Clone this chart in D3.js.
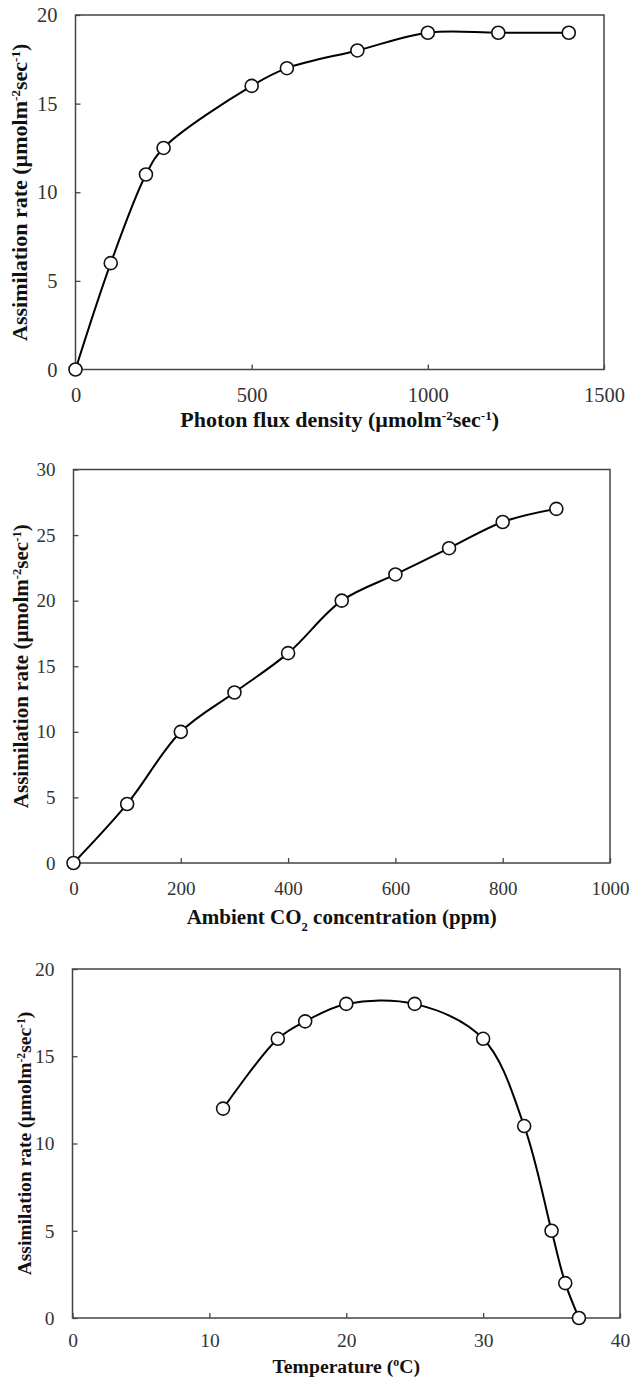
<!DOCTYPE html>
<html lang="en">
<head>
    <meta charset="UTF-8"/>
    <title>Assimilation rate response curves</title>
    <script src="https://d3js.org/d3.v7.min.js"></script>
    <style>
        body { margin: 0; background: #fff; }
        svg text { font-family: "Times New Roman", "Liberation Serif", "DejaVu Serif", serif; }
        .frame { fill: none; stroke: #444; stroke-width: 1.5; }
        .line { fill: none; stroke: #000; stroke-width: 2; }
        .dot { fill: #fff; stroke: #111; stroke-width: 1.6; }
        .tick text { fill: #333; }
        .tick line { stroke: #444; stroke-width: 1.3; }
        .domain { display: none; }
        .title { font-weight: bold; fill: #111; }
    </style>
</head>
<body>
<div id="chart"></div>
<script>
    // light response
    const photonX = [0, 100, 200, 250, 500, 600, 800, 1000, 1200, 1400];
    const photonY = [0, 6, 11, 12.5, 16, 17, 18, 19, 19, 19];
    const photonTicksX = [0, 500, 1000, 1500];
    const photonTicksY = [0, 5, 10, 15, 20];

    // CO2 response
    const co2X = [0, 100, 200, 300, 400, 500, 600, 700, 800, 900];
    const co2Y = [0, 4.5, 10, 13, 16, 20, 22, 24, 26, 27];
    const co2TicksX = [0, 200, 400, 600, 800, 1000];
    const co2TicksY = [0, 5, 10, 15, 20, 25, 30];

    // temperature response
    const tempX = [11, 15, 17, 20, 25, 30, 33, 35, 36, 37];
    const tempY = [12, 16, 17, 18, 18, 16, 11, 5, 2, 0];
    const tempTicksX = [0, 10, 20, 30, 40];
    const tempTicksY = [0, 5, 10, 15, 20];

    const w = 633;
    const h = 1383;
    const serif = '"Times New Roman", "Liberation Serif", "DejaVu Serif", serif';

    let svg = d3.select("#chart")
            .append("svg")
            .attr("width", w)
            .attr("height", h);

    // title parts: [text, "sup" | "sub" | null]
    const unitParts = [["(µmolm", null], ["-2", "sup"], ["sec", null], ["-1", "sup"], [")", null]];

    function writeTitle(t, parts, fs) {
        parts.forEach(p => {
            let s = t.append("tspan").text(p[0]);
            if (p[1] == "sup") s.attr("baseline-shift", "super").attr("font-size", fs * 0.6);
            if (p[1] == "sub") s.attr("baseline-shift", "sub").attr("font-size", fs * 0.6);
        });
    }

    function panel(xs, ys, ticksX, ticksY, cfg, xParts) {
        let xScale = d3.scaleLinear()
                .domain([ticksX[0], ticksX[ticksX.length - 1]])
                .range([cfg.left, cfg.right]);
        let yScale = d3.scaleLinear()
                .domain([ticksY[0], ticksY[ticksY.length - 1]])
                .range([cfg.bottom, cfg.top]);

        let xAxis = d3.axisBottom(xScale)
                .tickValues(ticksX)
                .tickFormat(d3.format("d"))
                .tickSizeInner(-5)
                .tickSizeOuter(0)
                .tickPadding(cfg.xPad);
        let yAxis = d3.axisLeft(yScale)
                .tickValues(ticksY)
                .tickFormat(d3.format("d"))
                .tickSizeInner(-5)
                .tickSizeOuter(0)
                .tickPadding(18);

        svg.append("g")
            .attr("transform", `translate(0, ${cfg.bottom})`)
            .call(xAxis)
            .attr("font-family", serif)
            .attr("font-size", cfg.tickFs);
        svg.append("g")
            .attr("transform", `translate(${cfg.left}, 0)`)
            .call(yAxis)
            .attr("font-family", serif)
            .attr("font-size", cfg.tickFs);

        svg.append("rect")
            .attr("class", "frame")
            .attr("x", cfg.left)
            .attr("y", cfg.top)
            .attr("width", cfg.right - cfg.left)
            .attr("height", cfg.bottom - cfg.top);

        let data = xs.map((x, i) => ({x: x, y: ys[i]}));
        let line = d3.line()
                .x(d => xScale(d.x))
                .y(d => yScale(d.y))
                .curve(d3.curveCatmullRom);
        svg.append("path")
            .datum(data)
            .attr("class", "line")
            .attr("d", line);
        svg.selectAll(null)
            .data(data)
            .enter()
            .append("circle")
            .attr("class", "dot")
            .attr("cx", d => xScale(d.x))
            .attr("cy", d => yScale(d.y))
            .attr("r", 6.5);

        let xt = svg.append("text")
            .attr("class", "title")
            .attr("font-size", cfg.xFs)
            .attr("text-anchor", "middle")
            .attr("x", (cfg.left + cfg.right) / 2)
            .attr("y", cfg.xTitleY);
        writeTitle(xt, xParts, cfg.xFs);

        let yt = svg.append("text")
            .attr("class", "title")
            .attr("font-size", cfg.yFs)
            .attr("text-anchor", "middle")
            .attr("transform", `translate(${cfg.yTitleX}, ${(cfg.top + cfg.bottom) / 2}) rotate(-90)`);
        writeTitle(yt, [["Assimilation rate ", null]].concat(unitParts), cfg.yFs);
    }

    panel(photonX, photonY, photonTicksX, photonTicksY,
        {left: 75.5, right: 604, top: 15, bottom: 369.5, tickFs: 20.5, xPad: 17.5, xFs: 22, xTitleY: 427, yFs: 22, yTitleX: 27},
        [["Photon flux density ", null]].concat(unitParts));

    panel(co2X, co2Y, co2TicksX, co2TicksY,
        {left: 73.5, right: 610, top: 469.5, bottom: 863, tickFs: 19, xPad: 18.5, xFs: 21, xTitleY: 924, yFs: 21, yTitleX: 28},
        [["Ambient CO", null], ["2", "sub"], [" concentration (ppm)", null]]);

    panel(tempX, tempY, tempTicksX, tempTicksY,
        {left: 72.5, right: 620, top: 969, bottom: 1318, tickFs: 19.5, xPad: 15, xFs: 19.7, xTitleY: 1373, yFs: 19.5, yTitleX: 31},
        [["Temperature (", null], ["o", "sup"], ["C)", null]]);
</script>
</body>
</html>
